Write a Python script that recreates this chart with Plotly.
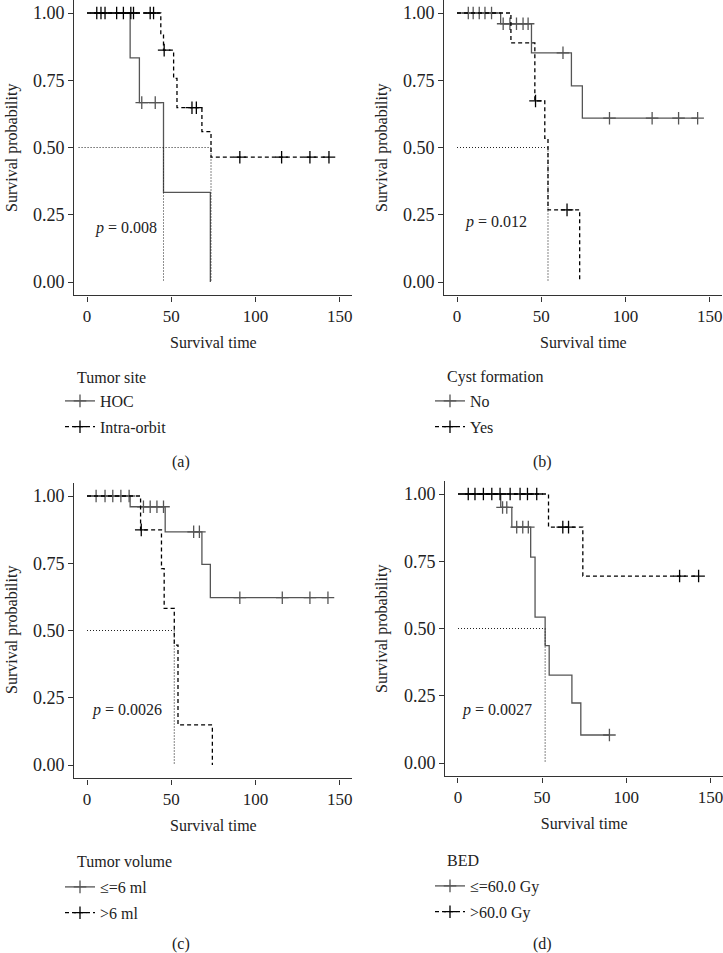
import numpy as np
import plotly.graph_objects as go

FONT = "Liberation Serif"

# ---------------- data ----------------
panel_letters = ["(a)", "(b)", "(c)", "(d)"]
legend_titles = ["Tumor site", "Cyst formation", "Tumor volume", "BED"]
group_names = [["HOC", "Intra-orbit"], ["No", "Yes"], ["≤=6 ml", ">6 ml"], ["≤=60.0 Gy", ">60.0 Gy"]]
p_values = ["0.008", "0.012", "0.0026", "0.0027"]
p_label_x = [3.5, 3.7, 1.8, 1.2]
p_label_y = [0.20, 0.224, 0.204, 0.197]
median_line_start = [-5, 0, 0, 0]
x_title = "Survival time"
y_title = "Survival probability"

# (a) Tumor site
a_hoc_event_t = [25.6, 31.1, 45.4, 73.2]
a_hoc_event_s = [0.833, 0.667, 0.333, 0.0]
a_hoc_cens_t = [32.5, 40.5]
a_orb_event_t = [43.8, 45.4, 51.4, 53.4, 68.2, 73.6]
a_orb_event_s = [0.918, 0.862, 0.757, 0.648, 0.559, 0.464]
a_orb_cens_t = [5.8, 8.3, 10.7, 17.6, 21.6, 26.0, 27.6, 37.5, 39.5, 45.8, 62.3, 64.9, 90.7, 115.5, 132.3, 143.6]

# (b) Cyst formation
b_no_event_t = [25.9, 44.2, 67.9, 74.4]
b_no_event_s = [0.960, 0.852, 0.729, 0.609]
b_no_cens_t = [6.7, 9.6, 13.2, 16.6, 20.5, 27.4, 31.4, 35.3, 39.2, 42.2, 62.9, 90.5, 115.8, 131.5, 142.8]
b_yes_event_t = [32.0, 46.2, 52.1, 54.0, 72.8]
b_yes_event_s = [0.889, 0.673, 0.534, 0.268, 0.0]
b_yes_cens_t = [46.6, 65.3]

# (c) Tumor volume
c_small_event_t = [25.6, 46.4, 68.2, 73.2]
c_small_event_s = [0.960, 0.867, 0.746, 0.622]
c_small_cens_t = [5.4, 10.7, 15.3, 20.1, 25.0, 33.5, 37.5, 41.5, 45.4, 63.3, 66.7, 90.7, 115.9, 132.3, 143.0]
c_large_event_t = [31.8, 44.2, 45.8, 51.8, 54.0, 74.4]
c_large_event_s = [0.874, 0.730, 0.582, 0.446, 0.149, 0.0]
c_large_cens_t = [32.2]

# (d) BED
d_low_event_t = [25.4, 32.0, 43.2, 45.8, 51.8, 54.2, 67.7, 73.0]
d_low_event_s = [0.950, 0.877, 0.765, 0.542, 0.436, 0.327, 0.223, 0.104]
d_low_cens_t = [26.5, 29.0, 34.9, 38.5, 41.8, 90.0]
d_high_event_t = [53.8, 74.2]
d_high_event_s = [0.877, 0.695]
d_high_cens_t = [6.1, 10.1, 15.1, 20.1, 25.0, 31.0, 36.9, 41.3, 46.8, 62.3, 65.7, 131.7, 143.0]

x_ticks = [0, 50, 100, 150]
y_ticks = [0, 0.25, 0.5, 0.75, 1.0]
y_ticktext = ["0.00", "0.25", "0.50", "0.75", "1.00"]

panels = [
    [(a_hoc_event_t, a_hoc_event_s, a_hoc_cens_t), (a_orb_event_t, a_orb_event_s, a_orb_cens_t)],
    [(b_no_event_t, b_no_event_s, b_no_cens_t), (b_yes_event_t, b_yes_event_s, b_yes_cens_t)],
    [(c_small_event_t, c_small_event_s, c_small_cens_t), (c_large_event_t, c_large_event_s, c_large_cens_t)],
    [(d_low_event_t, d_low_event_s, d_low_cens_t), (d_high_event_t, d_high_event_s, d_high_cens_t)],
]

# ---------------- layout (screen pixel placement) ----------------
W, H = 723, 953
X_RANGE = [-7.5, 157.5]
PPX = 1.685
# screen px of: x=0 tick, y=1.00 tick, y=0.00 tick
calib = [(87, 13, 282), (457, 13, 282), (87, 496, 765), (458, 494, 763)]
legend_px = [(60, 384), (430, 384), (60, 870), (430, 869)]
legend_title_px = [(75, 377), (445, 377), (75, 861), (445, 860)]
letter_px = [(180.5, 462), (542, 462), (180.5, 944), (542, 944)]
ytitle_px = [(12, 148), (382, 148), (12, 630), (382, 629)]


def fx(px):
    return px / W


def fy(py):
    return 1 - py / H


SOLID_COLOR = "#555555"
DASH_COLOR = "#000000"
styles = [dict(color=SOLID_COLOR, dash="solid"), dict(color=DASH_COLOR, dash="4px,3px")]
AXIS_COLOR = "#333333"
TXT = "#222222"


def surv_at(t, ev_t, ev_s):
    idx = np.searchsorted(np.asarray(ev_t), t, side="right") - 1
    return 1.0 if idx < 0 else ev_s[idx]


def median_time(ev_t, ev_s):
    for t, s in zip(ev_t, ev_s):
        if s <= 0.5:
            return t
    return None


fig = go.Figure()
layout_upd = {}
annotations = []

for i, groups in enumerate(panels):
    xa = "x" if i == 0 else f"x{i + 1}"
    ya = "y" if i == 0 else f"y{i + 1}"
    leg = "legend" if i == 0 else f"legend{i + 1}"

    medians = []
    for g, (ev_t, ev_s, cens_t) in enumerate(groups):
        st = styles[g]
        end_t = max(ev_t[-1], max(cens_t) if cens_t else 0)
        xs = [0] + list(ev_t)
        ys = [1.0] + list(ev_s)
        if end_t > ev_t[-1]:
            xs.append(end_t)
            ys.append(ev_s[-1])
        fig.add_trace(go.Scatter(
            x=xs, y=ys, mode="lines", line=dict(shape="hv", color=st["color"], width=1.3, dash=st["dash"]),
            xaxis=xa, yaxis=ya, showlegend=False, hoverinfo="skip"))
        cy = [surv_at(t, ev_t, ev_s) for t in cens_t]
        fig.add_trace(go.Scatter(
            x=cens_t, y=cy, mode="markers",
            marker=dict(symbol="cross-thin", size=9, line=dict(color=st["color"], width=1.3)),
            xaxis=xa, yaxis=ya, showlegend=False, hoverinfo="skip"))
        fig.add_trace(go.Scatter(
            x=[None], y=[None], mode="lines+markers", name=group_names[i][g],
            line=dict(color=st["color"], width=1.3, dash=st["dash"]),
            marker=dict(symbol="cross-thin", size=9, line=dict(color=st["color"], width=1.3)),
            xaxis=xa, yaxis=ya, showlegend=True, legend=leg, legendgroup=f"{leg}_{g}"))
        m = median_time(ev_t, ev_s)
        if m is not None:
            medians.append(m)

    if medians:
        mx = max(medians)
        fig.add_trace(go.Scatter(
            x=[median_line_start[i], mx], y=[0.5, 0.5], mode="lines",
            line=dict(color=TXT, width=1.1, dash="1px,2px"),
            xaxis=xa, yaxis=ya, showlegend=False, hoverinfo="skip"))
        for m in medians:
            fig.add_trace(go.Scatter(
                x=[m, m], y=[0.5, 0.0], mode="lines",
                line=dict(color=TXT, width=1.1, dash="1px,2px"),
                xaxis=xa, yaxis=ya, showlegend=False, hoverinfo="skip"))

    x0s, y1s, y0s = calib[i]
    left = x0s + X_RANGE[0] * PPX
    right = x0s + X_RANGE[1] * PPX
    ppy = y0s - y1s
    bottom = y0s + 0.05 * ppy
    top = y1s - 0.05 * ppy
    y_top_val = 1.05
    if top < 0:
        top = 0
        y_top_val = 1 + y1s / ppy
    xdom = [max(0, fx(left)), min(1, fx(right))]
    ydom = [max(0, fy(bottom)), min(1, fy(top))]

    axis_common = dict(showline=True, linecolor=AXIS_COLOR, linewidth=1.3, ticks="outside", ticklen=5,
                       tickcolor=AXIS_COLOR, tickwidth=1.2, showgrid=False, zeroline=False,
                       ticklabeloverflow="allow")
    layout_upd["xaxis" if i == 0 else f"xaxis{i + 1}"] = dict(
        domain=xdom, range=X_RANGE, tickvals=x_ticks, anchor=ya,
        tickfont=dict(family=FONT, size=17, color=TXT),
        title=dict(text=x_title, font=dict(family=FONT, size=16, color=TXT), standoff=11),
        **axis_common)
    layout_upd["yaxis" if i == 0 else f"yaxis{i + 1}"] = dict(
        domain=ydom, range=[-0.05, y_top_val], tickvals=y_ticks, ticktext=y_ticktext, anchor=xa,
        tickfont=dict(family=FONT, size=18, color=TXT),
        **axis_common)
    lx, ly = legend_px[i]
    layout_upd[leg] = dict(
        x=fx(lx), y=fy(ly), xanchor="left", yanchor="top",
        font=dict(family=FONT, size=16, color=TXT), bgcolor="rgba(0,0,0,0)",
        tracegroupgap=2, itemwidth=30)

    yx, yy = ytitle_px[i]
    annotations.append(dict(
        x=fx(yx), y=fy(yy), xref="paper", yref="paper", xanchor="center", yanchor="middle",
        text=y_title, textangle=-90, showarrow=False, font=dict(family=FONT, size=16, color=TXT)))
    tx, ty = legend_title_px[i]
    annotations.append(dict(
        x=fx(tx), y=fy(ty), xref="paper", yref="paper", xanchor="left", yanchor="middle",
        text=legend_titles[i], showarrow=False, font=dict(family=FONT, size=16, color=TXT)))
    annotations.append(dict(
        x=p_label_x[i], y=p_label_y[i], xref=xa, yref=ya, xanchor="left", yanchor="middle",
        text=f"<i>p</i> = {p_values[i]}", showarrow=False,
        font=dict(family=FONT, size=16, color=TXT)))
    px_, py_ = letter_px[i]
    annotations.append(dict(
        x=fx(px_), y=fy(py_), xref="paper", yref="paper", xanchor="center", yanchor="middle",
        text=panel_letters[i], showarrow=False, font=dict(family=FONT, size=16, color=TXT)))

fig.update_layout(
    width=W, height=H, margin=dict(l=0, r=0, t=0, b=0),
    paper_bgcolor="white", plot_bgcolor="white",
    font=dict(family=FONT, size=16, color=TXT),
    annotations=annotations, **layout_upd)

fig.write_html("out.html", config={"displayModeBar": False},
               post_script="document.body.style.margin='0';document.body.style.overflow='hidden';")
